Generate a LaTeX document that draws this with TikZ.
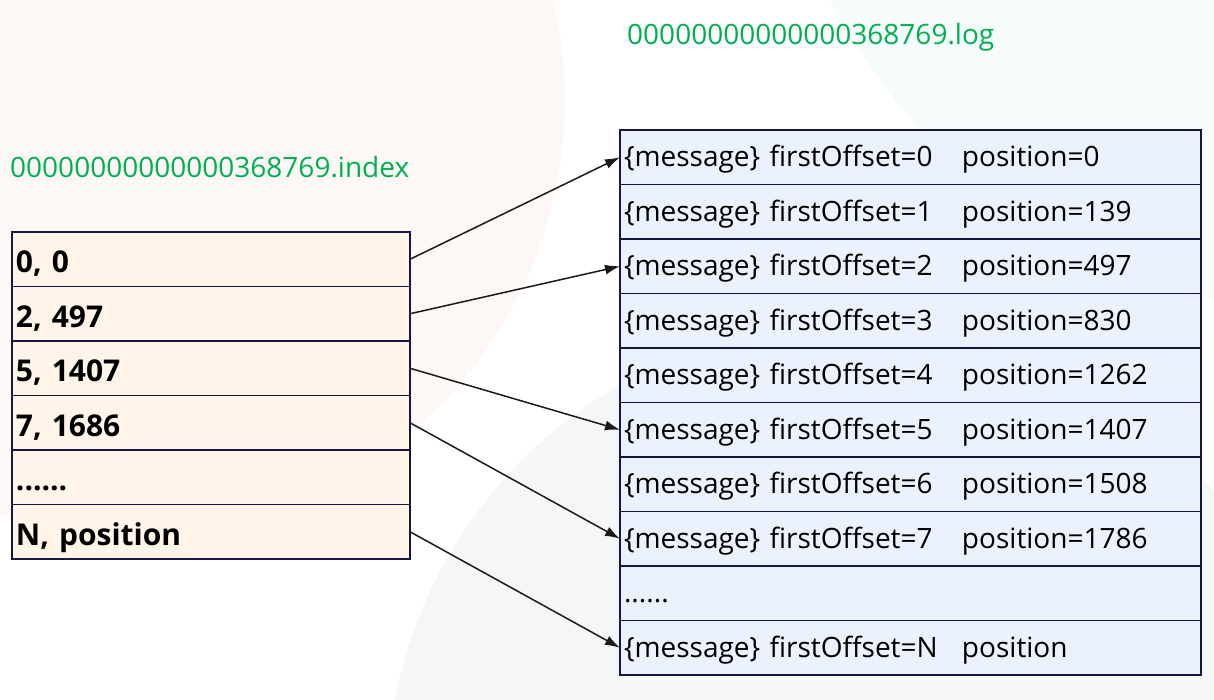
\documentclass[tikz,border=0pt]{standalone}
\usepackage{fontspec}
\setmainfont{Open Sans}
\usetikzlibrary{arrows.meta,positioning}
\definecolor{idxgreen}{HTML}{00B050}
\definecolor{cellline}{HTML}{16163F}
\definecolor{idxbg}{HTML}{FFF4E8}
\definecolor{logbg}{HTML}{EBF2FE}
\definecolor{bgpink}{HTML}{FDF8F5}
\definecolor{bggray}{HTML}{F5F6F8}
\definecolor{bgcyan}{HTML}{F6FBFC}
\definecolor{arrowblack}{HTML}{1A1A1A}

\newcommand{\msgline}[2]{\makebox[338pt][l]{\{message\} firstOffset=#1}#2}

\begin{document}
\begin{tikzpicture}[x=1pt,y=-1pt,node distance=0pt,
  idxcell/.style={draw=cellline,fill=idxbg,line width=1.2pt,outer sep=0pt,minimum height=54.5pt,text width=390pt,inner xsep=4pt,inner ysep=0pt,align=left,font=\bfseries\fontsize{30}{34}\selectfont,text height=28pt,text depth=1pt},
  logcell/.style={draw=cellline,fill=logbg,line width=1.2pt,outer sep=0pt,minimum height=54.5pt,text width=573pt,inner xsep=4pt,inner ysep=0pt,align=left,font=\fontsize{28}{32}\selectfont,text height=22pt,text depth=3pt},
  fname/.style={text=idxgreen,font=\fontsize{28}{32}\selectfont,inner sep=0pt,anchor=west},
  link/.style={-{Latex[length=15pt,width=10pt]},line width=1.5pt,draw=arrowblack}]
  \useasboundingbox[fill=white] (0,0) rectangle (1214,699);
  % faint background discs
  \begin{scope}
    \clip (0,0) rectangle (1214,699);
    \fill[bgpink] (130,100) circle[radius=435];
    \fill[bggray] (854,790) circle[radius=468];
    \fill[bgcyan] (1340,-260) circle[radius=572];
  \end{scope}

  \node[fname] (idxname) at (10,167) {00000000000000368769.index};
  \node[fname] (logname) at (627,37) {00000000000000368769.log};

  % index file
  \node[idxcell,anchor=north west] (idx1) at (12,232) {0, 0};
  \node[idxcell,below=of idx1] (idx2) {2, 497};
  \node[idxcell,below=of idx2] (idx3) {5, 1407};
  \node[idxcell,below=of idx3] (idx4) {7, 1686};
  \node[idxcell,below=of idx4] (idx5) {......};
  \node[idxcell,below=of idx5] (idx6) {N, position};

  % log file
  \node[logcell,anchor=north west] (log1) at (620,130) {\msgline{0}{position=0}};
  \node[logcell,below=of log1] (log2) {\msgline{1}{position=139}};
  \node[logcell,below=of log2] (log3) {\msgline{2}{position=497}};
  \node[logcell,below=of log3] (log4) {\msgline{3}{position=830}};
  \node[logcell,below=of log4] (log5) {\msgline{4}{position=1262}};
  \node[logcell,below=of log5] (log6) {\msgline{5}{position=1407}};
  \node[logcell,below=of log6] (log7) {\msgline{6}{position=1508}};
  \node[logcell,below=of log7] (log8) {\msgline{7}{position=1786}};
  \node[logcell,below=of log8] (log9) {......};
  \node[logcell,below=of log9] (log10) {\msgline{N}{position}};

  \foreach \a/\b in {idx1/log1,idx2/log3,idx3/log6,idx4/log8,idx6/log10} \draw[link] (\a.east) -- (\b.west);
\end{tikzpicture}
\end{document}
